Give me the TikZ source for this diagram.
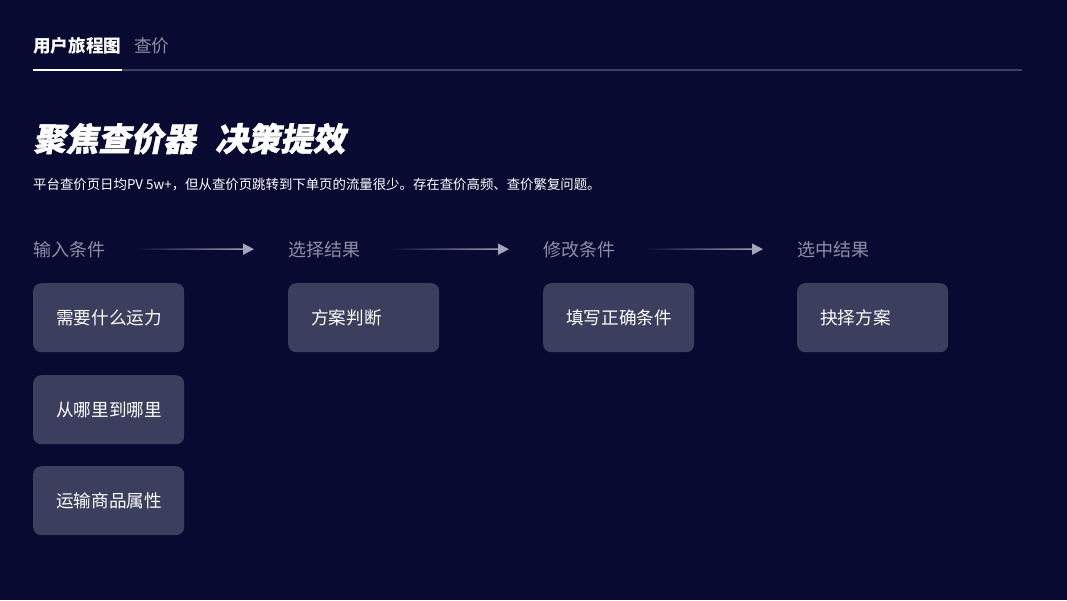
\documentclass[tikz,border=0pt]{standalone}
\usepackage{fontspec}
\setmainfont{Noto Sans CJK SC}
\newfontfamily\biaoti[FakeSlant=0.2, FakeBold=1.2]{Noto Sans CJK SC Black}
\usetikzlibrary{positioning, arrows.meta, fadings}
\definecolor{beijing}{HTML}{080A32}
\definecolor{kapianse}{HTML}{3B3E5C}
\definecolor{huise}{HTML}{8C8FA3}
\definecolor{xianse}{HTML}{3C3F62}
\definecolor{jiantouse}{HTML}{A3A6B8}

\begin{document}
\begin{tikzpicture}[x=1pt, y=-1pt,
			kapian/.style={rounded corners=8pt, fill=kapianse, text=white, font=\fontsize{17.6}{20}\selectfont,
			               minimum width=151pt, minimum height=69pt, inner xsep=23pt, inner ysep=0pt,
			               text width=105pt, align=left, anchor=north west},
			jieduan/.style={text=huise, inner sep=0pt, anchor=base west, font=\fontsize{18}{20}\selectfont},
			jiantou/.style={draw=jiantouse, line width=1.6pt, path fading=west},
			punta/.style={draw=jiantouse, fill=jiantouse, line width=1.6pt, -{Triangle[length=11pt, width=11pt]}}]
			\fill[beijing] (0,0) rectangle (1067,600);
			\useasboundingbox (0,0) rectangle (1067,600);
			% cabecera
			\node[anchor=base west, inner sep=0pt, text=white, font=\bfseries\fontsize{17.6}{20}\selectfont] (tab1) at (33,52.6) {用户旅程图};
			\node[anchor=base west, inner sep=0pt, text=huise, font=\fontsize{17.6}{20}\selectfont] (tab2) at (134,52.6) {查价};
			\draw[xianse, line width=1.5pt] (33,70) -- (1022,70);
			\draw[white, line width=2pt] (33,70) -- (122,70);
			\node[anchor=base west, inner sep=0pt, text=white, font=\biaoti\fontsize{32.5}{36}\selectfont] (titulo) at (33,151)
				{聚焦查价器\hspace{0.6em}决策提效};
			\node[anchor=base west, inner sep=0pt, text=white, font=\fontsize{13.4}{16}\selectfont] (sub) at (33,189)
				{平台查价页日均PV 5w+，但从查价页跳转到下单页的流量很少。存在查价高频、查价繁复问题。};
			% etapas
			\node[jieduan] (s1) at (33,256) {输入条件};
			\node[jieduan] (s2) at (288,256) {选择结果};
			\node[jieduan] (s3) at (543,256) {修改条件};
			\node[jieduan] (s4) at (797,256) {选中结果};
			\draw[jiantou] ([xshift=31pt]s1.east) -- ([xshift=-38pt]s2.west);
			\draw[punta] ([xshift=-40pt]s2.west) -- ([xshift=-34pt]s2.west);
			\draw[jiantou] ([xshift=31pt]s2.east) -- ([xshift=-38pt]s3.west);
			\draw[punta] ([xshift=-40pt]s3.west) -- ([xshift=-34pt]s3.west);
			\draw[jiantou] ([xshift=31pt]s3.east) -- ([xshift=-38pt]s4.west);
			\draw[punta] ([xshift=-40pt]s4.west) -- ([xshift=-34pt]s4.west);
			% tarjetas
			\node[kapian] (b11) at (33,283) {需要什么运力};
			\node[kapian] (b12) at (33,375) {从哪里到哪里};
			\node[kapian] (b13) at (33,466) {运输商品属性};
			\node[kapian] (b21) at (288,283) {方案判断};
			\node[kapian] (b31) at (543,283) {填写正确条件};
			\node[kapian] (b41) at (797,283) {抉择方案};
		\end{tikzpicture}
\end{document}
